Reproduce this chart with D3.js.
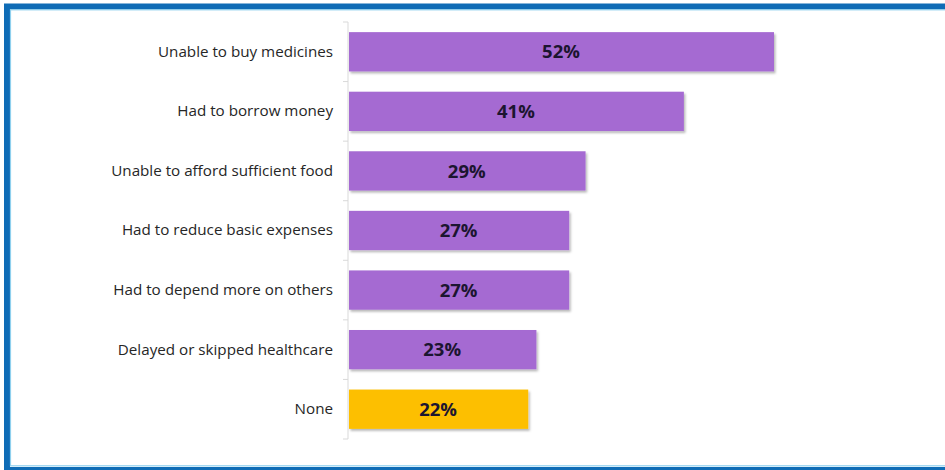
<!DOCTYPE html>
<html>
<head>
<meta charset="utf-8">
<script src="https://cdn.jsdelivr.net/npm/d3@7"></script>
<style>
  html, body { margin: 0; padding: 0; background: #ffffff; }
  svg { display: block; }
</style>
</head>
<body>
<svg id="chart" width="945" height="470"></svg>
<script>
// Financial coping responses, share of respondents
const categories = [
  "Unable to buy medicines",
  "Had to borrow money",
  "Unable to afford sufficient food",
  "Had to reduce basic expenses",
  "Had to depend more on others",
  "Delayed or skipped healthcare",
  "None"
];
const values = [52, 41, 29, 27, 27, 23, 22];
const highlight = ["None"];

const svg = d3.select("#chart");
const W = 945, H = 470;

// Frame
svg.append("rect")
  .attr("x", 7).attr("y", 6.5)
  .attr("width", W + 10).attr("height", 463.5)
  .attr("fill", "none").attr("stroke", "#0f6cb6").attr("stroke-width", 6);
svg.append("rect")
  .attr("x", 10.5).attr("y", 9.8)
  .attr("width", W + 10).attr("height", 456)
  .attr("fill", "none").attr("stroke", "#8fd0ee").attr("stroke-width", 1.2);

const defs = svg.append("defs");
const f = defs.append("filter").attr("id", "shadow")
  .attr("x", "-5%").attr("y", "-20%").attr("width", "115%").attr("height", "150%");
f.append("feDropShadow").attr("dx", 1.5).attr("dy", 2).attr("stdDeviation", 1.3)
  .attr("flood-color", "#000").attr("flood-opacity", 0.28);

const x0 = 348;
const x = d3.scaleLinear().domain([0, 52]).range([x0, 774]);
const y = d3.scaleBand().domain(categories).range([22, 439]).paddingInner(0.34).paddingOuter(0.17);

// Category axis
const axis = d3.axisLeft(y).tickSize(0).tickPadding(15);
const gAxis = svg.append("g").attr("transform", `translate(${x0},0)`).call(axis);
gAxis.select(".domain").attr("stroke", "#d9d9d9").attr("d", "M0,22V439");
gAxis.selectAll("text")
  .attr("font-family", "Open Sans, sans-serif")
  .attr("font-size", 15.2)
  .attr("fill", "#262626");

// Tick marks at band boundaries
const bounds = d3.range(categories.length + 1).map(i => 22 + i * (417 / categories.length));
svg.append("g").selectAll("line").data(bounds).join("line")
  .attr("x1", x0 - 5).attr("x2", x0)
  .attr("y1", d => d).attr("y2", d => d)
  .attr("stroke", "#d9d9d9");

// Bars
svg.append("g").selectAll("rect").data(categories).join("rect")
  .attr("x", x0 + 1)
  .attr("y", d => y(d))
  .attr("width", (d, i) => x(values[i]) - x0 - 1)
  .attr("height", y.bandwidth())
  .attr("fill", d => highlight.includes(d) ? "#fdbf05" : "#a56bd2")
  .attr("filter", "url(#shadow)");

// Value labels
svg.append("g").selectAll("text").data(categories).join("text")
  .attr("x", (d, i) => (x0 + x(values[i])) / 2)
  .attr("y", d => y(d) + y.bandwidth() / 2)
  .attr("dy", "0.36em")
  .attr("text-anchor", "middle")
  .attr("font-family", "Open Sans, sans-serif")
  .attr("font-weight", "bold")
  .attr("font-size", 18.5)
  .attr("fill", "#1c1530")
  .text((d, i) => values[i] + "%");
</script>
</body>
</html>
